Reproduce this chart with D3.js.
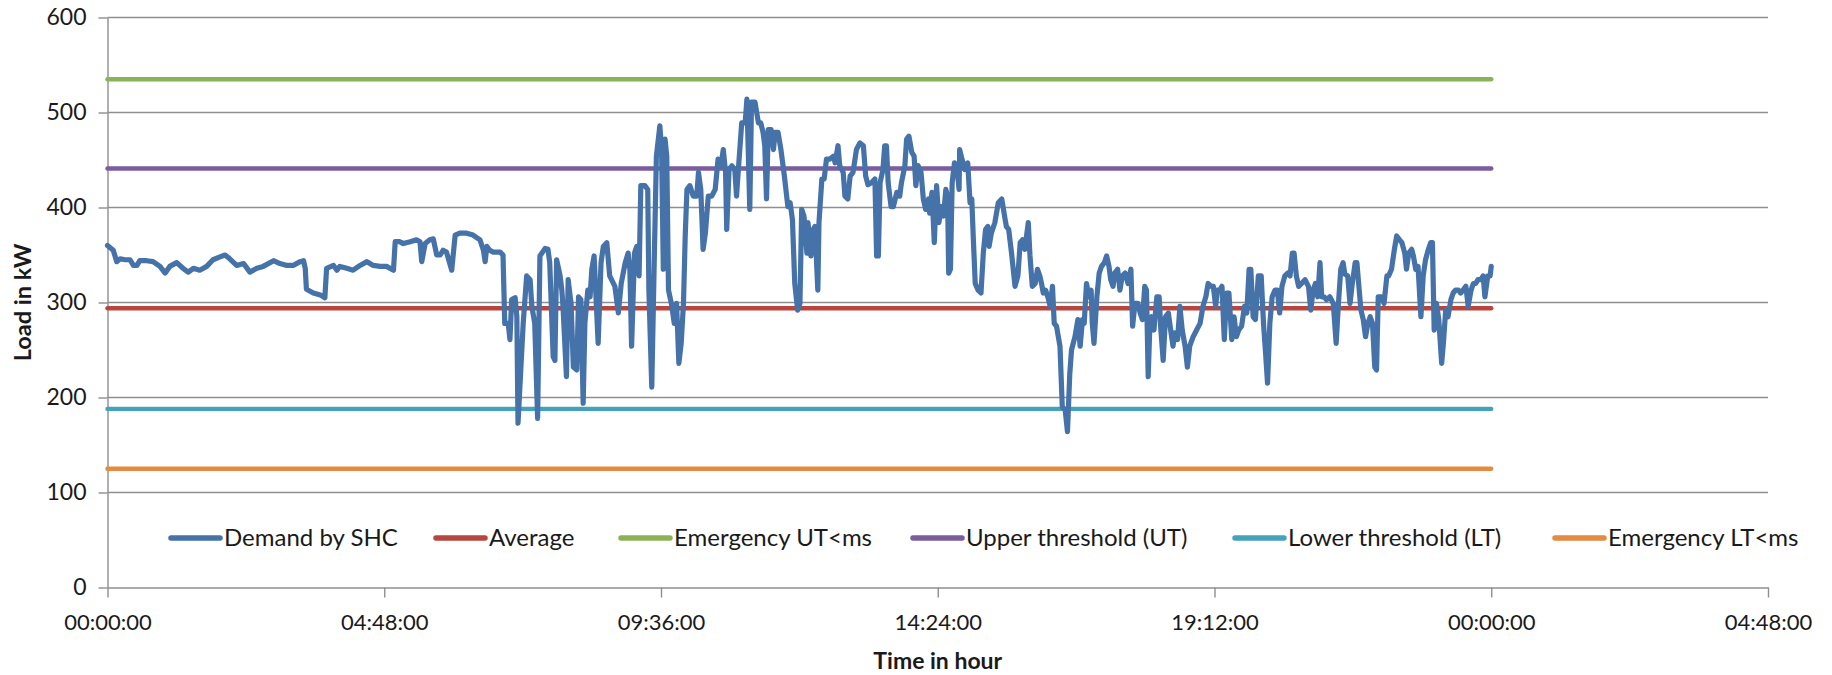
<!DOCTYPE html>
<html>
<head>
<meta charset="utf-8">
<script src="https://cdn.jsdelivr.net/npm/d3@7/dist/d3.min.js"></script>
<style>
  html, body { margin: 0; padding: 0; background: #ffffff; }
  svg { display: block; }
  text { font-family: Lato, "Open Sans", "Liberation Sans", sans-serif; fill: #1a1a1a; }
</style>
</head>
<body>
<svg id="chart" width="1832" height="675"></svg>
<script>
// Demand by SHC over one day: time of day (hours) and load (kW)
const demandHours = [
  0.00,0.10,0.16,0.22,0.30,0.39,0.45,0.51,0.56,0.68,0.79,0.91,1.00,1.08,1.20,1.31,1.40,1.49,1.60,1.72,
  1.83,1.95,2.04,2.12,2.24,2.36,2.47,2.59,2.70,2.88,2.99,3.11,3.22,3.34,3.40,3.43,3.45,3.57,3.69,3.77,
  3.80,3.92,3.98,4.03,4.15,4.26,4.38,4.50,4.61,4.73,4.84,4.96,4.99,5.07,5.13,5.25,5.36,5.42,5.45,5.51,
  5.59,5.65,5.71,5.77,5.82,5.88,5.97,6.03,6.11,6.23,6.34,6.46,6.52,6.55,6.58,6.63,6.69,6.81,6.86,
  6.89,6.95,6.98,7.01,7.07,7.10,7.12,7.15,7.21,7.27,7.33,7.36,7.41,7.46,7.50,7.59,7.64,7.67,7.73,7.76,
  7.79,7.85,7.88,7.90,7.96,7.99,8.04,8.08,8.14,8.17,8.21,8.25,8.28,8.33,8.37,8.40,8.44,8.48,8.51,8.56,
  8.60,8.66,8.71,8.80,8.86,8.91,8.98,9.03,9.06,9.09,9.14,9.18,9.22,9.25,9.32,9.37,9.39,9.44,9.48,9.52,
  9.58,9.61,9.64,
  9.67,9.70,9.73,9.78,9.83,9.87,9.91,9.95,9.99,10.02,10.05,10.10,10.16,10.22,10.25,10.29,10.33,10.37,10.42,10.48,
  10.54,10.59,10.64,10.68,10.72,10.74,10.78,10.83,10.88,10.91,10.95,11.00,11.06,11.09,11.14,11.17,11.23,11.29,11.33,11.37,
  11.40,11.43,11.46,11.51,11.55,11.58,11.63,11.68,11.74,11.80,11.84,11.88,11.92,11.97,12.01,12.04,12.08,12.13,12.15,12.20,
  12.24,12.27,12.32,12.34,12.39,12.43,12.47,12.53,12.59,
  12.62,12.67,12.70,12.76,12.79,12.84,12.88,12.93,12.99,13.05,13.11,13.15,13.19,13.25,13.31,13.34,13.37,13.40,13.45,13.48,
  13.51,13.54,13.59,13.63,13.69,13.74,13.77,13.83,13.86,13.90,13.95,13.99,14.02,14.06,14.11,14.15,14.19,14.24,14.26,14.30,
  14.34,14.38,14.42,14.46,14.50,14.54,14.57,14.59,14.62,14.65,14.69,14.73,14.77,14.78,14.82,14.87,14.92,14.96,14.99,15.02,
  15.05,15.10,15.15,15.19,15.23,15.27,15.29,15.33,15.39,15.45,15.51,15.57,
  15.59,15.63,15.68,15.74,15.79,15.83,15.87,15.91,15.97,16.00,16.04,16.09,16.13,16.17,16.20,16.23,16.27,16.31,16.35,16.39,
  16.42,16.46,16.52,16.56,16.61,16.65,16.69,16.72,16.78,16.83,16.87,16.91,16.94,16.98,17.02,17.06,17.08,17.11,17.16,17.20,
  17.24,17.29,17.33,17.37,17.40,17.44,17.47,17.52,17.56,17.60,17.65,17.70,17.75,17.78,17.82,17.87,17.91,17.95,17.99,18.02,
  18.05,18.08,18.11,18.15,18.20,18.24,18.27,18.31,18.35,18.40,18.44,18.48,18.51,
  18.56,18.60,18.64,18.69,18.73,18.77,18.83,18.89,18.95,19.00,19.05,19.09,19.14,19.18,19.22,19.25,19.29,19.33,19.37,19.41,
  19.45,19.50,19.54,19.58,19.62,19.67,19.72,19.76,19.80,19.83,19.87,19.91,19.96,20.01,20.05,20.09,20.12,20.16,20.20,20.25,
  20.29,20.33,20.37,20.42,20.47,20.51,20.55,20.58,20.62,20.66,20.71,20.77,20.83,20.87,20.91,20.95,20.99,21.03,21.06,21.10,
  21.14,21.20,21.26,21.31,21.35,21.39,21.43,21.46,
  21.51,21.55,21.59,21.64,21.67,21.71,21.74,21.78,21.82,21.86,21.90,21.94,21.98,22.01,22.04,22.10,22.14,22.19,22.22,22.27,
  22.32,22.36,22.41,22.45,22.50,22.53,22.57,22.62,22.65,22.69,22.73,22.78,22.82,22.86,22.91,22.95,22.98,23.01,23.05,23.09,
  23.14,23.17,23.21,23.25,23.30,23.34,23.38,23.43,23.47,23.51,23.56,23.60,23.65,23.69,23.73,23.77,23.82,23.86,23.89,23.94,
  23.98,24.00
];
const demandKw = [
  360,355,343,346,345,345,339,339,344,344,343,338,331,338,342,336,332,336,334,338,
  345,348,350,346,339,341,332,336,338,344,341,339,339,343,344,336,314,310,308,305,
  336,339,334,338,336,334,339,343,339,338,338,334,364,364,362,364,366,364,343,362,
  366,367,350,350,355,353,334,371,373,373,371,366,355,343,359,355,353,353,350,
  278,278,261,303,305,285,173,208,278,328,324,296,278,178,349,357,356,342,243,239,
  345,328,313,296,222,324,299,232,229,306,303,194,278,313,306,335,349,296,257,342,
  359,363,328,317,289,320,342,352,335,254,352,359,328,423,423,419,313,211,335,454,
  486,461,335,
  472,454,313,299,278,299,236,257,299,370,419,423,412,412,437,419,356,373,412,412,
  419,451,444,461,437,377,440,444,440,412,447,489,489,514,398,511,511,489,489,479,
  465,409,482,482,461,479,479,461,433,401,405,387,320,292,299,398,391,352,384,349,
  377,380,313,384,430,430,451,451,454,
  447,465,444,437,412,409,433,437,461,468,465,433,424,426,430,349,349,426,440,465,
  465,426,401,401,416,412,426,444,472,475,458,454,423,444,437,409,398,409,394,416,
  363,423,384,401,391,419,412,331,335,426,447,444,419,461,451,440,447,405,409,363,
  320,313,310,352,377,380,359,373,384,405,409,387,
  380,377,352,317,328,363,366,356,384,349,317,320,335,328,320,310,313,306,296,317,
  278,275,254,190,187,164,225,250,264,282,254,282,278,320,306,313,278,257,306,331,
  338,342,349,338,324,317,331,335,313,328,331,320,335,275,299,299,289,282,317,313,
  222,278,285,271,306,306,271,239,285,289,271,254,268,
  261,296,271,254,232,254,264,271,278,296,306,320,317,317,296,313,313,317,261,310,
  310,261,285,264,271,275,296,289,335,335,285,282,328,328,278,243,215,278,306,313,
  313,289,317,328,331,328,352,352,328,317,320,324,317,292,313,320,306,342,306,306,
  303,306,299,257,299,335,342,330,
  328,299,320,342,342,313,292,282,264,278,285,278,232,229,306,306,299,328,328,335,
  356,370,366,363,352,335,352,356,349,335,338,285,328,345,356,363,363,271,299,282,
  236,257,292,285,303,310,313,313,310,313,317,296,313,320,320,324,324,328,306,328,
  328,338
];

// Reference levels (kW), in legend order after the demand series
const levelNames = ["Average", "Emergency UT<ms", "Upper threshold (UT)", "Lower threshold (LT)", "Emergency LT<ms"];
const levelKw = [294, 535, 441, 188, 125];
const levelSpanHours = [0, 24];

const seriesNames = ["Demand by SHC"].concat(levelNames);
const seriesColors = ["#4672AA", "#B7463F", "#8DB255", "#7B5D9E", "#44A3BC", "#E38B3E"];

// Axis ticks
const yTicks = [0, 100, 200, 300, 400, 500, 600];
const xTickHours = [0, 4.8, 9.6, 14.4, 19.2, 24, 28.8];
const xTickLabels = ["00:00:00", "04:48:00", "09:36:00", "14:24:00", "19:12:00", "00:00:00", "04:48:00"];

const svg = d3.select("#chart");
const margin = { left: 107.5, right: 64, top: 17.5, bottom: 87.5 };
const W = 1832, H = 675;

const x = d3.scaleLinear().domain([0, 28.8]).range([margin.left, W - margin.right]);
const y = d3.scaleLinear().domain([0, 600]).range([H - margin.bottom, margin.top]);

const gridColor = "#8f8f8f";

// horizontal gridlines
svg.append("g")
  .selectAll("line")
  .data(yTicks.filter(d => d > 0))
  .join("line")
  .attr("x1", x(0)).attr("x2", x(28.8))
  .attr("y1", d => y(d)).attr("y2", d => y(d))
  .attr("stroke", gridColor).attr("stroke-width", 1.4);

// y axis
const yAxis = svg.append("g")
  .attr("transform", `translate(${x(0)},0)`)
  .call(d3.axisLeft(y).tickValues(yTicks).tickSize(9).tickSizeOuter(0).tickPadding(12));
yAxis.select(".domain").attr("stroke", gridColor).attr("stroke-width", 1.4);
yAxis.selectAll(".tick line").attr("stroke", gridColor).attr("stroke-width", 1.4);
yAxis.selectAll(".tick text").attr("font-size", 23).attr("font-family", null).attr("fill", "#1a1a1a");

// x axis
const xAxis = svg.append("g")
  .attr("transform", `translate(0,${y(0)})`)
  .call(d3.axisBottom(x).tickValues(xTickHours).tickFormat((d, i) => xTickLabels[i])
    .tickSize(10).tickSizeOuter(0).tickPadding(17));
xAxis.select(".domain").attr("stroke", gridColor).attr("stroke-width", 1.4);
xAxis.selectAll(".tick line").attr("stroke", gridColor).attr("stroke-width", 1.4);
xAxis.selectAll(".tick text").attr("font-size", 22).attr("font-family", null).attr("fill", "#1a1a1a");

// reference level lines
svg.append("g")
  .selectAll("line")
  .data(levelKw)
  .join("line")
  .attr("x1", x(levelSpanHours[0])).attr("x2", x(levelSpanHours[1]))
  .attr("y1", d => y(d)).attr("y2", d => y(d))
  .attr("stroke", (d, i) => seriesColors[i + 1])
  .attr("stroke-width", 4.4)
  .attr("stroke-linecap", "round");

// demand line
const demand = demandHours.map((h, i) => [h, demandKw[i]]);
svg.append("path")
  .datum(demand)
  .attr("fill", "none")
  .attr("stroke", seriesColors[0])
  .attr("stroke-width", 5.2)
  .attr("stroke-linejoin", "round")
  .attr("stroke-linecap", "round")
  .attr("d", d3.line().x(d => x(d[0])).y(d => y(d[1])));

// legend: one slot per series, laid out in a single row under the plot
const legendSlots = [169, 434, 619, 911, 1233, 1553];
const legend = svg.append("g").attr("transform", "translate(0,538)");
seriesNames.forEach((name, i) => {
  const item = legend.append("g").attr("transform", `translate(${legendSlots[i]},0)`);
  item.append("line")
    .attr("x1", 2).attr("x2", 51).attr("y1", 0).attr("y2", 0)
    .attr("stroke", seriesColors[i]).attr("stroke-width", 5.5).attr("stroke-linecap", "round");
  item.append("text")
    .attr("x", 55).attr("y", 0).attr("dy", "0.35em")
    .attr("font-size", 24)
    .text(name);
});

// axis titles
svg.append("text")
  .attr("x", (x(0) + x(28.8)) / 2).attr("y", 661).attr("dy", "0.35em")
  .attr("text-anchor", "middle").attr("font-size", 23).attr("font-weight", "bold")
  .text("Time in hour");

svg.append("text")
  .attr("transform", `translate(23,${(y(0) + y(600)) / 2}) rotate(-90)`)
  .attr("dy", "0.35em")
  .attr("text-anchor", "middle").attr("font-size", 23.5).attr("font-weight", "bold")
  .text("Load in kW");
</script>
</body>
</html>
